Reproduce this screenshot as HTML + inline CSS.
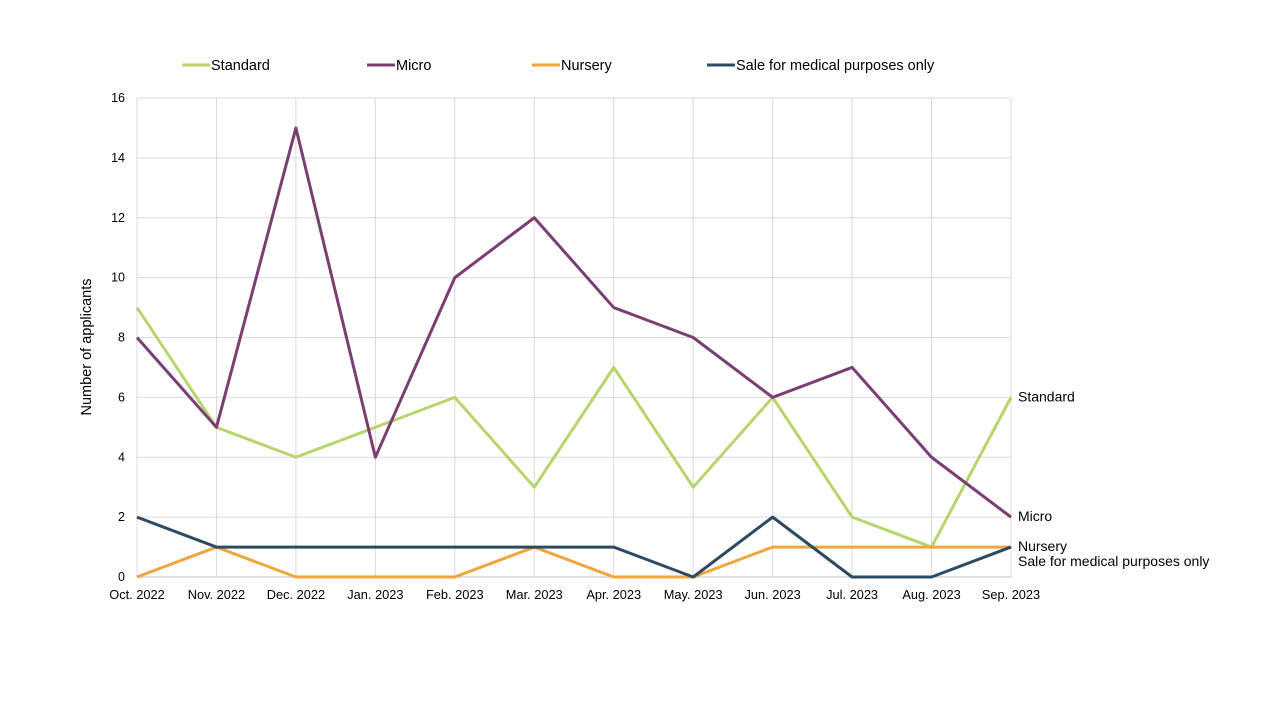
<!DOCTYPE html>
<html><head><meta charset="utf-8"><style>
body{margin:0;background:#fff;font-family:"Liberation Sans",Arial,sans-serif;}
svg text{font-family:"Liberation Sans",Arial,sans-serif;fill:#000;}
</style></head><body>
<svg id="chart" width="1280" height="720" viewBox="0 0 1280 720" xmlns="http://www.w3.org/2000/svg">
<g id="grid"></g>
<g id="axes"></g>
<g id="series"></g>
<g id="legend"></g>
<text transform="translate(91,347) rotate(-90)" text-anchor="middle" font-size="14.5">Number of applicants</text>
</svg>
<script>
const categories=["Oct. 2022","Nov. 2022","Dec. 2022","Jan. 2023","Feb. 2023","Mar. 2023","Apr. 2023","May. 2023","Jun. 2023","Jul. 2023","Aug. 2023","Sep. 2023"];
const standard=[9,5,4,5,6,3,7,3,6,2,1,6];
const micro=[8,5,15,4,10,12,9,8,6,7,4,2];
const nursery=[0,1,0,0,0,1,0,0,1,1,1,1];
const medical=[2,1,1,1,1,1,1,0,2,0,0,1];
const yTicks=[0,2,4,6,8,10,12,14,16];
const seriesNames=["Standard","Micro","Nursery","Sale for medical purposes only"];

const NS="http://www.w3.org/2000/svg";
const X0=137,X1=1011,Y0=577,Y1=98,YMAX=16;
const x=i=>X0+(X1-X0)*i/(categories.length-1);
const y=v=>Y0-(Y0-Y1)*v/YMAX;
function mk(tag,attrs,parent,txt){const e=document.createElementNS(NS,tag);for(const k in attrs)e.setAttribute(k,attrs[k]);if(txt!==undefined)e.textContent=txt;parent.appendChild(e);return e;}
const grid=document.getElementById('grid'),axes=document.getElementById('axes'),ser=document.getElementById('series'),leg=document.getElementById('legend');
yTicks.forEach(t=>{
 const l=mk('line',{x1:X0,x2:X1,y1:y(t),y2:y(t),stroke:t===0?'#bfbfbf':'#d9d9d9','stroke-width':1},grid);
 
 
 const tx=mk('text',{x:X0-12,y:y(t)+4,'text-anchor':'end','font-size':12.5},axes,String(t));
 
 
});
categories.forEach((c,i)=>{
 const l=mk('line',{x1:x(i),x2:x(i),y1:Y1,y2:Y0,stroke:'#d9d9d9','stroke-width':1},grid);
 
 
 const tx=mk('text',{x:x(i),y:599,'text-anchor':'middle','font-size':12.8},axes,c);
 
 
});
const all=[standard,micro,nursery,medical];
const colors=["#b8d46c","#7a3e72","#f0a63c","#2d4a63"];
const dnames=["series-standard","series-micro","series-nursery","series-medical"];
[0,1,2,3].forEach(s=>{
 const d=all[s].map((v,i)=>(i?'L':'M')+x(i)+','+y(v)).join(' ');
 const p=mk('path',{d:d,fill:'none',stroke:colors[s],'stroke-width':3,'stroke-linejoin':'round'},ser);
 
 
});
const endOffsets=[0,0,0,15];
seriesNames.forEach((n,s)=>{
 const v=all[s][all[s].length-1];
 const t=mk('text',{x:1018,y:y(v)+4+endOffsets[s],'font-size':14},ser,n);
 
 
});
const legX=[182,367,532,707];
seriesNames.forEach((n,s)=>{
 const g=mk('g',{},leg);
 
 
 mk('line',{x1:legX[s],x2:legX[s]+28,y1:65,y2:65,stroke:colors[s],'stroke-width':3},g);
 mk('text',{x:legX[s]+29,y:70,'font-size':14.5},g,n);
});
</script>
</body></html>
